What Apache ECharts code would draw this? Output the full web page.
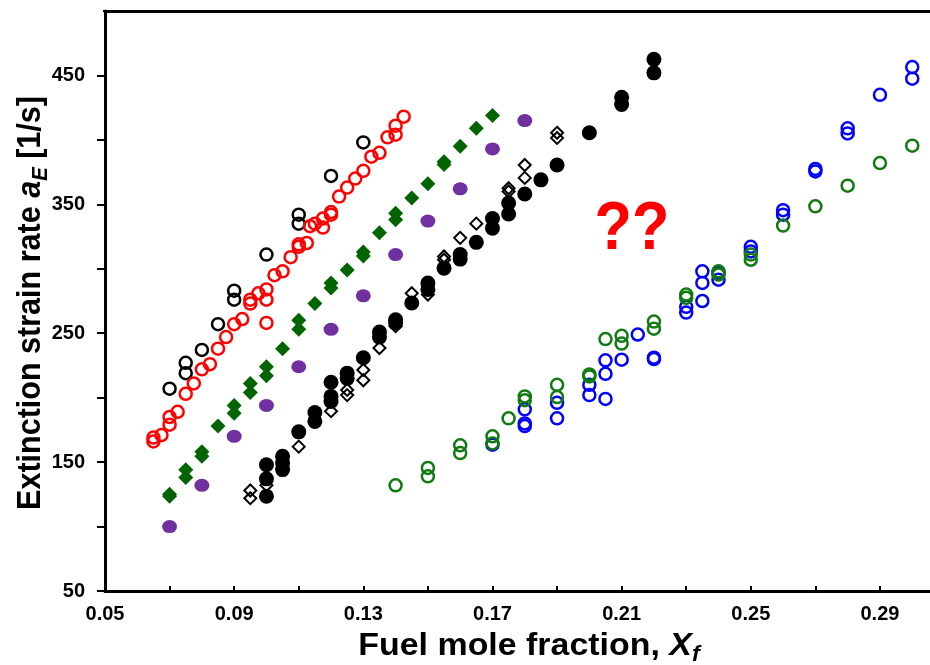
<!DOCTYPE html>
<html>
<head>
<meta charset="utf-8">
<title>Extinction strain rate</title>
<script src="https://cdn.jsdelivr.net/npm/echarts@6/dist/echarts.min.js"></script>
<style>
  html, body { margin: 0; padding: 0; background: #fff; }
  #chart { width: 930px; height: 665px; }
</style>
</head>
<body>
<div id="chart"></div>
<script>
// values
const blackOpenX = [0.07, 0.075, 0.075, 0.08, 0.085, 0.09, 0.09, 0.10, 0.11, 0.11, 0.12, 0.13]
const blackOpenY = [207, 227, 219, 237, 257, 283, 276, 311, 342, 335, 372, 398]

const redX = [0.065, 0.065, 0.0675, 0.07, 0.07, 0.0725, 0.075, 0.0775, 0.08, 0.0825, 0.085, 0.0875,
  0.09, 0.0925, 0.095, 0.095, 0.0975, 0.10, 0.10, 0.10, 0.1025, 0.105, 0.1075, 0.11, 0.11, 0.1125,
  0.1135, 0.115, 0.1175, 0.1175, 0.12, 0.12, 0.1225, 0.125, 0.1275, 0.13, 0.1325, 0.135, 0.1375,
  0.14, 0.14, 0.1425]
const redY = [166, 169, 171, 179, 185, 189, 203, 211, 222, 226, 238, 247,
  257, 261, 273, 276, 281, 276, 284, 258, 295, 298, 309, 317, 319, 320,
  333, 335, 332, 339, 342, 344, 356, 363, 370, 376, 387, 390, 402,
  404, 411, 418]

const greenDiamondX = [0.07, 0.07, 0.075, 0.075, 0.08, 0.08, 0.085, 0.09, 0.09, 0.095, 0.095, 0.10, 0.10,
  0.105, 0.11, 0.11, 0.115, 0.12, 0.12, 0.125, 0.13, 0.13, 0.135, 0.14, 0.14, 0.145, 0.15,
  0.155, 0.155, 0.16, 0.165, 0.17]
const greenDiamondY = [123.5, 125, 144, 138, 158, 154.5, 178, 194, 188, 211, 204, 224, 217,
  238, 260, 253, 273, 289, 285, 299, 313, 310, 328, 343, 338, 355, 366,
  383, 381, 395, 409, 419]

const purpleX = [0.07, 0.08, 0.09, 0.10, 0.11, 0.12, 0.13, 0.14, 0.15, 0.16, 0.17, 0.18]
const purpleY = [100, 132, 170, 194, 224, 253, 279, 311, 337, 362, 393, 415]

const blackDiamondX = [0.095, 0.095, 0.10, 0.11, 0.12, 0.125, 0.125, 0.13, 0.13, 0.135, 0.14, 0.145,
  0.15, 0.155, 0.155, 0.16, 0.165, 0.175, 0.175, 0.18, 0.18, 0.19, 0.19]
const blackDiamondY = [128, 122, 132, 162, 189.5, 206, 202, 221.5, 213.5, 238.5, 255.5, 281,
  280, 309.5, 307, 324, 335, 362.5, 360, 380.5, 370.5, 405.5, 401.5]

const blackFilledX = [0.10, 0.10, 0.10, 0.105, 0.105, 0.105, 0.11, 0.115, 0.115, 0.12, 0.12, 0.12,
  0.125, 0.125, 0.13, 0.135, 0.135, 0.14, 0.14, 0.145, 0.15, 0.15, 0.155, 0.16, 0.16, 0.165,
  0.17, 0.17, 0.175, 0.175, 0.18, 0.185, 0.19, 0.20, 0.21, 0.21, 0.22, 0.22]
const blackFilledY = [148, 137, 123.5, 154.5, 149.4, 144.2, 173.5, 188.4, 181.6, 212, 201, 197,
  219, 215, 231, 251, 247, 260.5, 258, 273.5, 289, 284, 300.5, 311, 307.5, 320.5,
  339, 331.5, 351, 342.5, 358, 369, 380.5, 405.5, 433, 427.5, 462.5, 452]

const blueX = [0.17, 0.18, 0.18, 0.18, 0.19, 0.19, 0.20, 0.20, 0.205, 0.205, 0.205, 0.21, 0.215,
  0.22, 0.22, 0.23, 0.23, 0.235, 0.235, 0.235, 0.24, 0.24, 0.25, 0.25, 0.26, 0.26,
  0.27, 0.27, 0.28, 0.28, 0.29, 0.30, 0.30]
const blueY = [163.5, 191, 180, 178, 196, 184, 210, 202, 229, 218.5, 199, 229.5, 249,
  231, 230, 270.5, 266, 298, 289, 275, 291.5, 296.5, 317, 313.5, 345.5, 342,
  377.5, 375.5, 409, 405, 435, 456.5, 447.5]

const greenOpenX = [0.14, 0.15, 0.15, 0.16, 0.16, 0.17, 0.17, 0.175, 0.18, 0.18, 0.19, 0.19,
  0.20, 0.20, 0.205, 0.21, 0.21, 0.22, 0.22, 0.23, 0.23, 0.24, 0.24, 0.25, 0.25,
  0.26, 0.27, 0.28, 0.29, 0.30]
const greenOpenY = [132, 145.5, 139, 163, 157, 170, 164.5, 184, 201, 198, 210, 200.5,
  218, 216.5, 245.5, 248, 242, 259, 253.5, 280, 277.5, 298, 295.5, 311, 307,
  333.5, 348.5, 364.5, 382, 395.5]

const font = "'Liberation Sans', Arial, sans-serif"

function zip(xs, ys) {
  return xs.map((x, i) => [x, ys[i]])
}

function openSeries(name, xs, ys, color, symbol, size, width) {
  return {
    name: name,
    type: 'scatter',
    data: zip(xs, ys),
    symbol: symbol,
    symbolSize: size,
    itemStyle: { color: 'rgba(0,0,0,0)', borderColor: color, borderWidth: width, opacity: 1 }
  }
}

function filledSeries(name, xs, ys, color, symbol, size) {
  return {
    name: name,
    type: 'scatter',
    data: zip(xs, ys),
    symbol: symbol,
    symbolSize: size,
    itemStyle: { color: color, opacity: 1 }
  }
}

function titleRich(size) {
  return {
    t: { fontSize: size, fontWeight: 'bold', fontFamily: font, lineHeight: size + 8 },
    i: { fontSize: size, fontWeight: 'bold', fontStyle: 'italic', fontFamily: font, lineHeight: size + 8 },
    s: { fontSize: Math.round(size * 0.68), fontWeight: 'bold', fontStyle: 'italic', fontFamily: font,
      lineHeight: Math.round(size * 0.7), verticalAlign: 'bottom' }
  }
}

const chart = echarts.init(document.getElementById('chart'), null, { renderer: 'canvas' })

const option = {
  animation: false,
  backgroundColor: '#fff',
  grid: { left: 105, right: 0, top: 11, bottom: 74 },
  xAxis: [
    {
      type: 'value',
      min: 0.05,
      max: 0.3055,
      interval: 0.02,
      axisLine: { lineStyle: { color: '#000', width: 3 } },
      axisTick: { inside: true, length: 5, lineStyle: { color: '#000', width: 2 } },
      splitLine: { show: false },
      axisLabel: {
        margin: 13,
        color: '#000',
        fontSize: 20,
        fontWeight: 'bold',
        fontFamily: font,
        showMaxLabel: false,
        formatter: v => {
          const k = Math.round((v - 0.05) / 0.02)
          return k % 2 === 0 && Math.abs(v - 0.05 - k * 0.02) < 1e-6 ? v.toFixed(2) : ''
        }
      }
    },
    {
      type: 'value',
      position: 'top',
      min: 0.05,
      max: 0.3055,
      axisLine: { show: true, lineStyle: { color: '#000', width: 3 } },
      axisTick: { show: false },
      axisLabel: { show: false },
      splitLine: { show: false }
    }
  ],
  yAxis: {
    type: 'value',
    min: 50,
    max: 500,
    interval: 50,
    axisLine: { show: true, lineStyle: { color: '#000', width: 3 } },
    axisTick: { show: true, inside: false, length: 8, lineStyle: { color: '#000', width: 2 } },
    splitLine: { show: false },
    axisLabel: {
      margin: 20,
      color: '#000',
      fontSize: 20,
      fontWeight: 'bold',
      fontFamily: font,
      formatter: v => ((v - 50) % 100 === 0 && v < 500 ? String(v) : '')
    }
  },
  series: [
    openSeries('Black open circles', blackOpenX, blackOpenY, '#000000', 'circle', 12, 2.5),
    openSeries('Red open circles', redX, redY, '#ff0000', 'circle', 12, 2.5),
    filledSeries('Green diamonds', greenDiamondX, greenDiamondY, '#006400', 'diamond', 15),
    filledSeries('Purple circles', purpleX, purpleY, '#7030a0', 'circle', [15, 13]),
    filledSeries('Black circles', blackFilledX, blackFilledY, '#000000', 'circle', 15),
    openSeries('Black open diamonds', blackDiamondX, blackDiamondY, '#000000', 'diamond', 12, 2),
    openSeries('Blue open circles', blueX, blueY, '#0000ff', 'circle', 12, 2.5),
    openSeries('Green open circles', greenOpenX, greenOpenY, '#107a10', 'circle', 12, 2.5)
  ],
  graphic: [
    // hide the tick at the top corner (the frame has none there)
    {
      type: 'rect',
      shape: { x: 90, y: 7, width: 13, height: 8 },
      style: { fill: '#fff' },
      z: 100
    },
    {
      type: 'text',
      x: 31,
      y: 303,
      rotation: Math.PI / 2,
      scaleX: 0.925,
      style: {
        text: '{t|Extinction strain rate }{i|a}{s|E}{t| [1/s]}',
        align: 'center',
        verticalAlign: 'middle',
        fill: '#000',
        rich: titleRich(33)
      }
    },
    {
      type: 'text',
      x: 529,
      y: 646,
      scaleX: 1.06,
      style: {
        text: '{t|Fuel mole fraction, }{i|X}{s|f}',
        align: 'center',
        verticalAlign: 'middle',
        fill: '#000',
        rich: titleRich(32)
      }
    },
    {
      type: 'text',
      x: 632,
      y: 230,
      scaleX: 0.9,
      style: {
        text: '??',
        align: 'center',
        verticalAlign: 'middle',
        fill: '#ff0000',
        fontSize: 68,
        fontWeight: 'bold',
        fontFamily: font
      }
    }
  ]
}

chart.setOption(option)
</script>
</body>
</html>
